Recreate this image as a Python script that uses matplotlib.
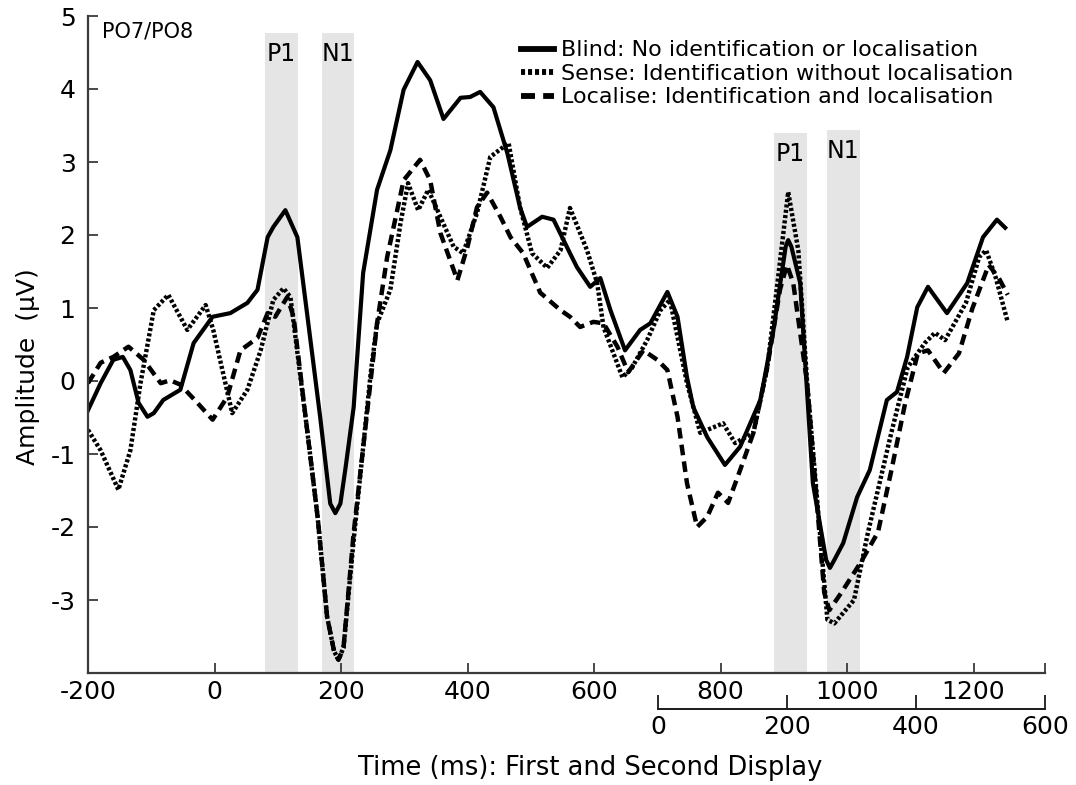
import matplotlib
matplotlib.use("Agg")
import matplotlib.pyplot as plt
import numpy as np

# time (ms) and amplitude (uV)
blind_t = [-200, -180, -160, -145, -133, -120, -106, -96, -81, -54, -33, -3, 25, 52, 68, 84, 93,
           112, 131, 147, 167, 183, 191, 199, 207, 220, 235, 257, 278, 299, 321, 341, 362, 389,
           404, 420, 441, 463, 483, 494, 518, 536, 562, 573, 594, 610, 626, 649, 673, 689, 716,
           732, 747, 757, 779, 807, 831, 863, 883, 903, 907, 912, 926, 946, 967, 973, 980, 994,
           1016, 1036, 1063, 1079, 1095, 1111, 1128, 1158, 1190, 1215, 1237, 1250]
blind_v = [-0.40, -0.03, 0.29, 0.33, 0.15, -0.30, -0.49, -0.44, -0.26, -0.12, 0.52, 0.88, 0.93,
           1.07, 1.25, 1.97, 2.11, 2.34, 1.97, 0.88, -0.49, -1.68, -1.81, -1.68, -1.20, -0.36,
           1.48, 2.62, 3.16, 3.99, 4.37, 4.12, 3.59, 3.88, 3.89, 3.96, 3.75, 3.12, 2.38, 2.11,
           2.25, 2.21, 1.75, 1.56, 1.29, 1.41, 0.97, 0.42, 0.70, 0.79, 1.22, 0.88, 0.05, -0.36,
           -0.77, -1.15, -0.90, -0.26, 0.66, 1.84, 1.93, 1.84, 1.34, -1.40, -2.45, -2.56, -2.45,
           -2.22, -1.59, -1.22, -0.26, -0.15, 0.33, 1.01, 1.29, 0.93, 1.34, 1.97, 2.21, 2.10]

sense_t = [-200, -180, -152, -133, -117, -96, -73, -43, -14, -2, 28, 52, 73, 93, 109, 120, 147,
           163, 178, 189, 196, 204, 220, 247, 257, 278, 294, 306, 322, 338, 357, 378, 393, 415,
           436, 465, 483, 502, 526, 547, 562, 589, 605, 615, 645, 660, 684, 705, 720, 747, 768,
           804, 823, 852, 874, 890, 907, 923, 937, 969, 980, 1011, 1033, 1070, 1096, 1123, 1139,
           1155, 1188, 1209, 1220, 1235, 1254]
sense_v = [-0.67, -0.95, -1.49, -0.95, -0.03, 0.97, 1.18, 0.70, 1.04, 0.70, -0.44, -0.12, 0.42,
           1.11, 1.27, 1.15, -0.71, -1.86, -3.23, -3.70, -3.82, -3.65, -2.18, 0.11, 0.79, 1.25,
           2.16, 2.71, 2.34, 2.62, 2.25, 1.84, 1.75, 2.30, 3.07, 3.26, 2.38, 1.75, 1.55, 1.79,
           2.37, 1.79, 1.34, 0.74, 0.05, 0.18, 0.56, 0.97, 1.11, -0.03, -0.71, -0.58, -0.85,
           -0.71, 0.19, 1.34, 2.59, 1.79, -0.03, -3.27, -3.32, -3.00, -2.08, -0.71, 0.19, 0.52,
           0.66, 0.56, 1.07, 1.70, 1.79, 1.42, 0.81]

local_t = [-200, -180, -160, -136, -112, -85, -70, -54, -27, -3, 20, 41, 68, 84, 96, 115, 125,
           147, 163, 178, 189, 196, 204, 220, 257, 273, 299, 325, 341, 357, 384, 400, 415, 431,
           452, 468, 488, 515, 547, 562, 578, 599, 615, 637, 654, 678, 700, 716, 732, 747, 763,
           779, 796, 812, 831, 852, 874, 894, 905, 915, 937, 964, 972, 991, 1022, 1049, 1070,
           1092, 1112, 1128, 1153, 1177, 1198, 1224, 1240, 1254]
local_v = [-0.03, 0.25, 0.33, 0.47, 0.29, -0.03, 0.01, -0.05, -0.30, -0.53, -0.22, 0.42, 0.59,
           0.93, 0.88, 1.15, 0.88, -0.71, -1.86, -3.23, -3.70, -3.82, -3.65, -2.08, 0.79, 1.70,
           2.75, 3.03, 2.75, 2.03, 1.38, 1.84, 2.38, 2.58, 2.25, 1.97, 1.75, 1.21, 0.97, 0.88,
           0.74, 0.81, 0.79, 0.47, 0.12, 0.42, 0.29, 0.15, -0.49, -1.40, -2.00, -1.86, -1.53,
           -1.67, -1.22, -0.71, 0.19, 1.25, 1.59, 1.34, -0.03, -2.90, -3.14, -2.90, -2.48, -2.07,
           -1.23, -0.30, 0.38, 0.42, 0.11, 0.38, 0.99, 1.59, 1.41, 1.18]

labels = ["Blind: No identification or localisation",
          "Sense: Identification without localisation",
          "Localise: Identification and localisation"]

# component windows (ms) and label names
win_start = [80, 170, 885, 968]
win_end = [132, 220, 936, 1020]
win_top = [4.77, 4.77, 3.40, 3.44]
win_name = ["P1", "N1", "P1", "N1"]

fig = plt.figure(figsize=(10.76, 7.85), dpi=100)
ax = fig.add_axes([88 / 1076, 112 / 785, 957 / 1076, 657 / 785])

for s, e, top, name in zip(win_start, win_end, win_top, win_name):
    ax.fill_between([s, e], -4, top, color="#e5e5e5", lw=0, zorder=0)
    ax.text((s + e) / 2, top - 0.12, name, ha="center", va="top", fontsize=17)

ax.plot(blind_t, blind_v, color="black", lw=3, ls="-", solid_joinstyle="round",
        label=labels[0])
ax.plot(sense_t, sense_v, color="black", lw=3.2, ls=(0, (0.7, 0.5)), label=labels[1])
ax.plot(local_t, local_v, color="black", lw=3.2, ls=(0, (2.4, 1.4)), label=labels[2])

ax.set_xlim(-200, 1313)
ax.set_ylim(-4, 5)
ax.set_xticks([-200, 0, 200, 400, 600, 800, 1000, 1200, 1313])
ax.set_xticklabels(["-200", "0", "200", "400", "600", "800", "1000", "1200", ""])
ax.set_yticks([-4, -3, -2, -1, 0, 1, 2, 3, 4, 5])
ax.set_yticklabels(["", "-3", "-2", "-1", "0", "1", "2", "3", "4", "5"])
for side in ["top", "right"]:
    ax.spines[side].set_visible(False)
for side in ["left", "bottom"]:
    ax.spines[side].set_color("#3a3a3a")
    ax.spines[side].set_linewidth(1.6)
ax.tick_params(direction="in", length=7, width=1.3, color="#3a3a3a", labelsize=18)
ax.tick_params(axis="x", pad=5)
ax.tick_params(axis="y", pad=9)

ax.text(-178, 4.92, "PO7/PO8", ha="left", va="top", fontsize=15)

leg = ax.legend(loc="upper left", bbox_to_anchor=(0.452, 0.963), frameon=False, fontsize=16,
                handlelength=1.5, handletextpad=0.3, labelspacing=0.16, borderpad=0,
                borderaxespad=0)
for line in leg.get_lines():
    line.set_linewidth(4.2)

ax.set_ylabel("Amplitude  (\u03bcV)", fontsize=18)
ax.yaxis.set_label_coords(-0.05, 0.467)

# second display time axis
ax2 = fig.add_axes([658 / 1076, 76 / 785, 387 / 1076, 0.0001])
ax2.set_xlim(0, 600)
ax2.set_xticks([0, 200, 400, 600])
ax2.set_yticks([])
ax2.patch.set_visible(False)
for side in ["top", "right", "left"]:
    ax2.spines[side].set_visible(False)
ax2.spines["bottom"].set_color("#1a1a1a")
ax2.spines["bottom"].set_linewidth(1.4)
ax2.tick_params(direction="in", length=10, width=1.3, color="#1a1a1a", labelsize=18, pad=4)

fig.text(590 / 1076, 1 - 768 / 785, "Time (ms): First and Second Display", ha="center",
         va="center", fontsize=18.5)

fig.savefig("out.png", dpi=100)
